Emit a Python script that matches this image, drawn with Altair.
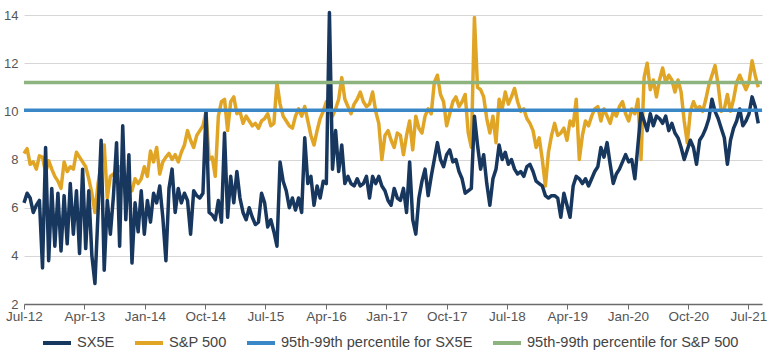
import altair as alt
import pandas as pd

# ---------------- data ----------------
start_date = "2012-07-01"
step_days = 14

sx5e = [
    6.2, 6.6, 6.4, 5.8, 6.1, 6.3, 3.5, 8.5, 3.8, 6.8,
    4.4, 6.6, 4.2, 6.5, 4.5, 7.0, 4.9, 6.7, 4.1, 7.6,
    4.3, 6.7, 4.0, 2.85, 5.8, 8.8, 3.4, 6.3, 4.9, 6.5,
    8.7, 4.4, 9.4, 5.5, 8.2, 3.7, 6.2, 5.0, 6.7, 4.9,
    6.3, 5.4, 6.6, 6.2, 6.9, 5.6, 3.8, 6.8, 7.6, 5.8,
    6.8, 6.2, 6.6, 6.3, 4.9, 6.7, 6.5, 6.4, 6.6, 10.0,
    5.8, 5.7, 5.5, 6.3, 5.4, 9.1, 5.6, 7.3, 6.2, 7.5,
    6.4, 5.8, 5.5, 6.0, 5.6, 5.3, 5.4, 6.6, 6.2, 5.2,
    5.5, 5.0, 4.4, 7.9, 7.1, 6.7, 6.0, 6.4, 5.9, 6.4,
    5.8, 8.9, 7.0, 7.3, 6.1, 6.9, 6.4, 7.1, 7.0, 14.1,
    7.6, 9.2, 7.5, 8.6, 7.0, 7.3, 7.0, 6.9, 7.2, 6.9,
    7.0, 7.3, 6.4, 7.3, 7.0, 7.3, 6.9, 6.7, 6.3, 6.1,
    6.8, 6.4, 6.3, 6.8, 5.8, 7.9, 5.5, 4.9, 6.4, 7.1,
    7.6, 6.5, 7.3, 8.0, 8.7, 8.0, 7.7, 8.2, 8.4, 7.9,
    8.0, 7.5, 7.2, 6.6, 6.7, 6.8, 9.8, 8.6, 7.6, 8.2,
    7.0, 6.1, 7.2, 7.6, 8.6, 8.0, 8.3, 7.8, 8.0, 7.6,
    7.4, 7.5, 7.3, 7.7, 7.8, 7.5, 7.1, 7.0, 6.9, 6.5,
    6.4, 6.5, 6.5, 6.4, 5.6, 6.6, 6.1, 5.6, 6.9, 7.3,
    7.2, 7.0, 7.2, 6.9, 7.2, 7.5, 7.7, 8.5, 8.1, 8.7,
    7.8, 7.0, 7.4, 7.6, 7.9, 8.2, 7.9, 8.0, 7.2, 8.6,
    10.0, 9.6, 9.2, 9.9, 9.4, 9.8, 9.7, 9.5, 9.8, 9.2,
    9.5, 9.1, 8.9, 8.5, 8.0, 8.4, 8.8, 8.5, 7.8, 8.8,
    9.0, 9.3, 9.7, 10.5, 10.0, 9.7, 9.3, 8.9, 7.8, 8.8,
    9.3, 9.6, 10.1, 9.4, 9.6, 9.9, 10.6, 10.2, 9.5,
]

spx = [
    8.25, 8.45, 7.8, 7.9, 7.6, 8.15, 8.1, 7.45, 7.95, 7.6,
    7.3, 7.1, 6.8, 7.9, 7.5, 7.7, 7.6, 8.3, 8.1, 7.9,
    7.7, 7.2, 6.6, 5.8, 7.0, 7.8, 8.6, 6.4, 7.3, 7.4,
    7.4, 7.7, 7.3, 6.4, 6.9, 6.7, 7.2, 7.0, 7.2, 7.7,
    7.3, 8.35, 7.9, 8.5, 7.4, 7.9, 8.1, 8.25, 8.0, 8.2,
    7.9, 8.3, 8.6, 9.2, 8.8, 8.5, 9.0, 9.2, 9.4, 10.0,
    8.0, 8.1, 7.3, 9.8, 10.4, 10.5, 9.2, 10.4, 10.6, 9.9,
    10.0, 9.5, 9.8, 9.6, 9.4, 9.5, 9.3, 9.6, 9.7, 9.9,
    9.4, 9.5, 11.2, 10.3, 9.8, 9.6, 9.4, 9.3, 9.8, 10.1,
    9.8, 10.2, 9.6, 9.0, 8.6, 9.2, 9.7, 10.0, 10.4, 10.1,
    9.8, 10.1, 10.5, 11.4, 10.5, 10.2, 9.9, 10.3, 10.5, 10.8,
    10.4, 10.2, 10.3, 10.8, 10.0, 9.5, 8.0, 9.0, 9.2, 8.8,
    8.5, 9.1, 9.0, 8.2, 9.0, 9.6, 8.4, 9.8, 9.3, 9.1,
    9.8, 10.1, 9.9, 11.2, 11.5, 10.7, 10.4, 9.4, 9.9, 10.4,
    10.6, 10.2, 10.4, 10.7, 9.1, 8.5, 13.9, 11.0, 10.9, 10.6,
    9.7, 9.1, 9.8, 8.7, 10.5, 10.1, 10.8, 10.3, 10.6, 10.95,
    10.4, 10.0, 10.1, 9.7, 9.5, 9.2, 8.5, 8.9, 8.0, 6.9,
    8.3, 9.0, 9.5, 9.0, 9.1, 9.3, 8.8, 9.6, 9.4, 10.5,
    8.0, 9.0, 9.6, 9.4, 9.8, 10.1, 10.2, 9.6, 10.1, 9.8,
    9.5, 10.0, 9.8, 10.2, 10.4, 9.9, 9.6, 10.1, 9.9, 10.5,
    8.0, 11.4, 12.0, 10.9, 11.3, 10.6, 11.3, 11.8, 11.2, 11.5,
    11.3, 10.8, 11.3, 10.8, 9.6, 8.7, 10.0, 10.4, 10.1, 10.2,
    10.0, 10.5, 11.1, 11.5, 11.9, 11.1, 10.0, 10.1, 10.7, 10.0,
    10.5, 11.2, 11.5, 11.2, 10.9, 11.2, 12.1, 11.5, 11.0,
]

series_names = ["SX5E", "S&P 500",
                "95th-99th percentile for SX5E",
                "95th-99th percentile for S&P 500"]
series_colors = ["#17375e", "#e1a526", "#3a87c8", "#8db47e"]
pct_names = ["95th-99th percentile for SX5E", "95th-99th percentile for S&P 500"]
pct_values = [10.05, 11.2]

# x tick positions (year, month) -> labels "%b-%y"
tick_years = [2012, 2013, 2014, 2014, 2015, 2016, 2017, 2017, 2018, 2019, 2020, 2020, 2021]
tick_months = [7, 4, 1, 10, 7, 4, 1, 10, 7, 4, 1, 10, 7]
y_ticks = [2, 4, 6, 8, 10, 12, 14]

# ---------------- tables ----------------
n = len(sx5e)
dates = list(pd.date_range(start_date, periods=n, freq=f"{step_days}D").strftime("%Y-%m-%d"))
df_sx = pd.DataFrame({"date": dates, "value": sx5e, "series": ["SX5E"] * n})
df_sp = pd.DataFrame({"date": dates, "value": spx, "series": ["S&P 500"] * n})
df_pct = pd.DataFrame({"series": pct_names, "value": pct_values})

FONT = "Liberation Sans"

x_enc = alt.X(
    "date:T",
    title=None,
    scale=alt.Scale(
        type="utc",
        domain=[alt.DateTime(year=2012, month=7, date=1, utc=True),
                alt.DateTime(year=2021, month=9, date=1, utc=True)],
    ),
    axis=alt.Axis(
        values=[alt.DateTime(year=y, month=m, date=1, utc=True)
                for y, m in zip(tick_years, tick_months)],
        labelExpr="utcFormat(datum.value, '%b-%y')",
        grid=False,
        domainColor="#6b6b6b",
        domainWidth=1.5,
        tickColor="#6b6b6b",
        tickSize=5,
        tickWidth=1,
        labelPadding=0,
        labelFontSize=13.5,
        labelColor="#555555",
        labelFont=FONT,
        labelFlush=False,
        labelOverlap=False,
    ),
)

y_enc = alt.Y(
    "value:Q",
    title=None,
    scale=alt.Scale(domain=[2, 14], nice=False, zero=False),
    axis=alt.Axis(
        values=y_ticks,
        grid=True,
        gridColor="#d6d6d6",
        gridWidth=1,
        domain=False,
        ticks=False,
        labelPadding=6,
        labelFontSize=13,
        labelColor="#555555",
        labelFont=FONT,
    ),
)

color_enc = alt.Color(
    "series:N",
    scale=alt.Scale(domain=series_names, range=series_colors),
    legend=alt.Legend(
        title=None,
        orient="none",
        direction="horizontal",
        legendX=17,
        legendY=312,
        gridAlign="none",
        symbolType="stroke",
        symbolSize=784,
        symbolStrokeWidth=4,
        labelFontSize=14.6,
        labelFont=FONT,
        labelColor="#444444",
        labelLimit=400,
        labelOffset=4,
        columnPadding=12,
        padding=0,
    ),
)

sp_line = alt.Chart(df_sp).mark_line(strokeWidth=3.5, strokeJoin="round").encode(
    x=x_enc, y=y_enc, color=color_enc
)
sx_line = alt.Chart(df_sx).mark_line(strokeWidth=3.5, strokeJoin="round").encode(
    x=x_enc, y=y_enc, color=color_enc
)
rules = alt.Chart(df_pct).mark_rule(strokeWidth=3.5).encode(
    y=alt.Y("value:Q"), color=color_enc
)

chart = alt.layer(sp_line, sx_line, rules).properties(
    width=738,
    height=289,
    autosize=alt.AutoSizeParams(type="none"),
    padding={"left": 24, "top": 15, "right": 8, "bottom": 48},
).configure_view(stroke=None)

chart.save("out.html", embed_options={"renderer": "svg", "actions": False})
